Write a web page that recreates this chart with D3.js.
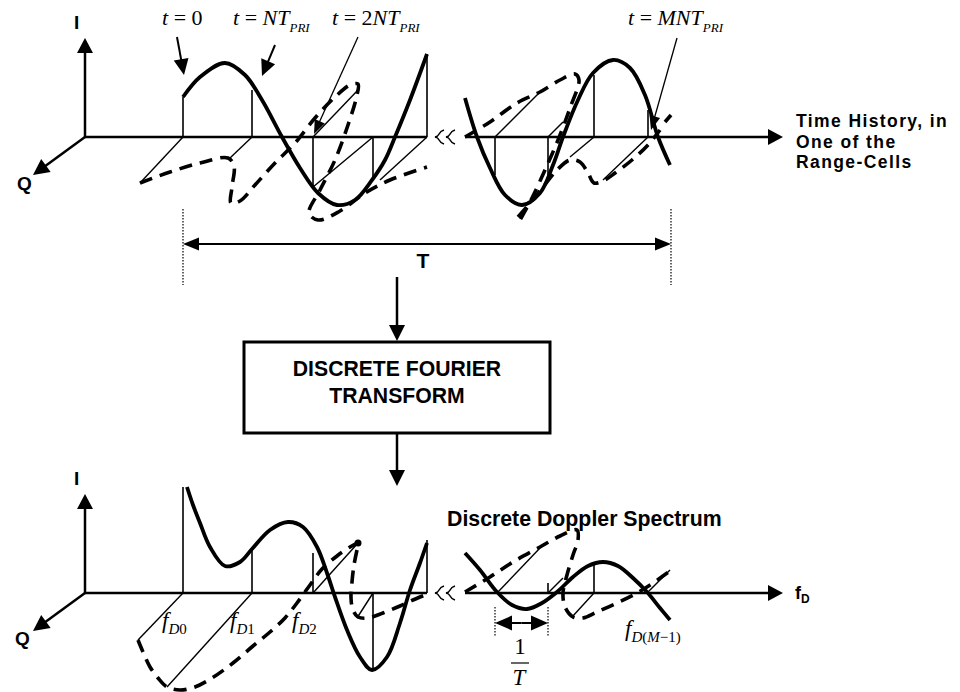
<!DOCTYPE html>
<html><head><meta charset="utf-8">
<script src="https://cdn.jsdelivr.net/npm/d3@7"></script>
<style>html,body{margin:0;padding:0;background:#fff}</style>
</head><body><svg id="c" width="960" height="692"></svg>
<script>
// ---------------- DATA (u = position along time/frequency axis, v = I amplitude / projected Q) -------------
// Upper panel: time history in one range cell
const topSolidA = [[98,40],[115,60],[140,74],[160,62],[177,37],[197,0],[215,-31],[233,-56],[252,-68],[270,-63],[287,-43],[300,-23],[310,0],[325,37],[342,83]];
const topSolidB = [[380,39],[392,0],[405,-31],[420,-58],[437,-68],[455,-56],[468,-28],[478,0],[493,37],[508,64],[528,77],[545,69],[560,42],[573,0],[585,-28]];
const topDashA = [[55,-46],[85,-35],[115,-26],[143,-21],[149,-29],[147,-50],[146,-66],[155,-64],[170,-48],[190,-26],[210,-6],[230,19],[250,40],[265,52],[273,53],[272,42],[263,12],[250,-23],[235,-53],[224,-76],[233,-83],[255,-74],[280,-56],[305,-43],[342,-30]];
const topDashB = [[380,0],[405,15],[432,34],[455,45],[475,57],[490,63],[494,57],[485,29],[473,-3],[460,-33],[447,-61],[435,-83]];
const topDashC = [[433,-80],[445,-66],[458,-50],[472,-33],[485,-23],[495,-25],[503,-36],[509,-46],[518,-44],[530,-36],[547,-23],[563,-8],[575,7]];
const topDashDot = [[580,15],[586,22]];
const topStems = [[98,40],[167,47],[228,-50],[288,-40],[342,83],[410,-38],[463,-38],[509,62],[563,27]];
const topQ = [[98,55,-46],[167,145,-21],[228,273,47],[288,228,-50],[342,295,-43],[410,455,45],[463,478,15],[509,485,-20],[563,518,-43]];
const topTimeSpan = [98,586];          // extent of T
const topLabels = [
  {u:77,  parts:[["t","i"],[" = 0","n"]], sub:null},
  {u:148, parts:[["t","i"],[" = ","n"],["NT","i"]], sub:"PRI"},
  {u:247, parts:[["t","i"],[" = 2","n"],["NT","i"]], sub:"PRI"},
  {u:543, parts:[["t","i"],[" = ","n"],["MNT","i"]], sub:"PRI"}
];
const topPointers = [ // [fromU, fromV, tipU, tipV, heavy]
  [92,100,99,62,1],[190,92,177,61,1],[273,100,229,3,0],[592,99,566,7,0]
];
const axisTitleLines = ["Time History, in","One of the","Range-Cells"];
// Lower panel: discrete Doppler spectrum
const botSolidA = [[102,106],[108,88],[115,70],[125,46],[140,27],[155,31],[167,44],[185,63],[203,71],[218,66],[232,46],[242,20],[250,-4],[262,-37],[275,-64],[287,-77],[302,-64],[315,-30],[325,3],[335,30],[342,50]];
const botSolidB = [[380,40],[395,23],[412,1],[427,-12],[442,-16],[457,-10],[472,1],[488,16],[503,27],[518,31],[533,27],[548,15],[562,1],[575,-15],[585,-27]];
const botDashA = [[53,-47],[58,-59],[65,-74],[73,-85],[82,-94],[95,-97],[110,-94],[127,-85],[148,-70],[168,-53],[185,-39],[200,-25],[212,-10],[225,8],[237,24],[252,37],[265,46],[273,50]];
const botDashB = [[272,43],[269,28],[267,11],[266,-5],[268,-17],[273,-24],[283,-25],[298,-20],[315,-13],[328,-7],[340,-2]];
const botDashC = [[380,1],[405,16],[428,31],[455,46],[475,57],[492,63],[493,53],[488,38],[482,18],[478,0],[480,-14],[488,-24],[498,-25],[512,-19],[532,-10],[552,0],[568,10],[585,22]];
const botStems = [[98,106],[167,45],[228,40],[288,-77],[342,53],[463,10],[509,31]];
const botQ = [[98,53,-47],[167,82,-94],[228,273,50],[288,272,-25],[412,455,45],[463,478,15],[509,487,-24],[562,585,23]];
const botDot = [273,50];
const binSpan = [410,463];             // 1/T spacing
const freqLabels = [
  {u:77,  sub:[["D","i"],["0","n"]]},
  {u:145, sub:[["D","i"],["1","n"]]},
  {u:207, sub:[["D","i"],["2","n"]]},
  {u:540, sub:[["D","i"],["(","n"],["M","i"],["\u22121)","n"]]}
];

// ---------------- SCALES ----------------
const X = d3.scaleLinear().domain([0,700]).range([85,785]);
const Yt = d3.scaleLinear().domain([-150,150]).range([287,-13]);
const Yb = d3.scaleLinear().domain([-150,150]).range([743,443]);

const svg = d3.select("#c");
svg.append("rect").attr("width",960).attr("height",692).attr("fill","#fff");
const SANS = "'Liberation Sans', Arial, Helvetica, sans-serif";
const SERIF = "'Liberation Serif', 'Times New Roman', serif";

function head(g, tip, from, len, hw){
  const dx=tip[0]-from[0], dy=tip[1]-from[1], L=Math.hypot(dx,dy), ux=dx/L, uy=dy/L;
  const bx=tip[0]-ux*len, by=tip[1]-uy*len;
  g.append("path").attr("d",`M${tip[0]},${tip[1]}L${bx-uy*hw},${by+ux*hw}L${bx+uy*hw},${by-ux*hw}Z`).attr("fill","#000");
  return [tip[0]-ux*(len-2), tip[1]-uy*(len-2)];
}
function arrow(g, from, tip, w, len, hw){
  const b = head(g, tip, from, len, hw);
  g.append("line").attr("x1",from[0]).attr("y1",from[1]).attr("x2",b[0]).attr("y2",b[1]).attr("stroke","#000").attr("stroke-width",w);
}
function squiggle(g, x, y){
  g.append("path").attr("d",`M${x+9},${y-7} C${x+2},${y-5} ${x+6},${y-1} ${x},${y} C${x+6},${y+1} ${x+2},${y+5} ${x+9},${y+7}`)
   .attr("fill","none").attr("stroke","#000").attr("stroke-width",1.5);
}

function panel(Y, d){
  const g = svg.append("g");
  const ln = d3.line().x(p=>X(p[0])).y(p=>Y(p[1])).curve(d3.curveCatmullRom.alpha(0.5));
  // axes
  arrow(g,[X(0),Y(0)],[X(0),Y(99)],2.5,15,8);
  arrow(g,[X(0),Y(0)],[X(-52),Y(-38)],2.5,16,8);
  g.append("line").attr("x1",X(0)).attr("y1",Y(0)).attr("x2",X(342)).attr("y2",Y(0)).attr("stroke","#000").attr("stroke-width",2.5);
  arrow(g,[X(380),Y(0)],[X(698),Y(0)],2.5,15,8);
  squiggle(g, X(350), Y(0)); squiggle(g, X(361), Y(0));
  // stems
  d.stems.forEach(s=>g.append("line").attr("x1",X(s[0])).attr("y1",Y(0)).attr("x2",X(s[0])).attr("y2",Y(s[1])).attr("stroke","#000").attr("stroke-width",1.6));
  // Q projections
  d.q.forEach(s=>g.append("line").attr("x1",X(s[0])).attr("y1",Y(0)).attr("x2",X(s[1])).attr("y2",Y(s[2])).attr("stroke","#000").attr("stroke-width",1.4));
  // dashed Q curves
  d.dash.forEach(c=>g.append("path").attr("d",ln(c)).attr("fill","none").attr("stroke","#000").attr("stroke-width",3.6).attr("stroke-dasharray","13,8").attr("stroke-linecap","butt"));
  // solid I curves
  d.solid.forEach(c=>g.append("path").attr("d",ln(c)).attr("fill","none").attr("stroke","#000").attr("stroke-width",3.8).attr("stroke-linecap","butt"));
  return g;
}

const gt = panel(Yt,{stems:topStems,q:topQ,dash:[topDashA,topDashB,topDashC,topDashDot],solid:[topSolidA,topSolidB]});
const gb = panel(Yb,{stems:botStems,q:botQ,dash:[botDashA,botDashB,botDashC],solid:[botSolidA,botSolidB]});
gb.append("circle").attr("cx",X(botDot[0])).attr("cy",Yb(botDot[1])).attr("r",3.5).attr("fill","#000");

// axis labels
function bold(txt,x,y,size,anchor){
  return svg.append("text").attr("x",x).attr("y",y).attr("font-family",SANS).attr("font-weight","bold")
    .attr("font-size",size).attr("text-anchor",anchor||"start").text(txt);
}
bold("I",74,29,19); bold("Q",17,190,19);
bold("I",74,485,19); bold("Q",15,645,19);
axisTitleLines.forEach((t,i)=>bold(t,796,127+i*20.7,17.5).attr("letter-spacing",1.4));
const fd = svg.append("text").attr("x",795).attr("y",599).attr("font-family",SANS).attr("font-weight","bold").attr("font-size",18);
fd.append("tspan").text("f"); fd.append("tspan").attr("dy",4).attr("font-size",12).text("D");
bold("Discrete Doppler Spectrum",447,526,21.3);

// time labels with pointers
topLabels.forEach(l=>{
  const t = svg.append("text").attr("x",X(l.u)).attr("y",25).attr("font-family",SERIF).attr("font-size",22);
  l.parts.forEach(p=>t.append("tspan").attr("font-style",p[1]==="i"?"italic":"normal").text(p[0]));
  if(l.sub) t.append("tspan").attr("dy",7).attr("font-size",13).attr("font-style","italic").text(l.sub);
});
topPointers.forEach(p=>arrow(gt,[X(p[0]),Yt(p[1])],[X(p[2]),Yt(p[3])],p[4]?2:1.3,p[4]?16:14,p[4]?7.5:5.5));

// T dimension
topTimeSpan.forEach(u=>gt.append("line").attr("x1",X(u)).attr("x2",X(u)).attr("y1",Yt(-72)).attr("y2",Yt(-148))
  .attr("stroke","#000").attr("stroke-width",1.2).attr("stroke-dasharray","1.5,1.5"));
const tm = (X(topTimeSpan[0])+X(topTimeSpan[1]))/2;
arrow(gt,[tm,Yt(-107)],[X(topTimeSpan[0]),Yt(-107)],2,16,6.5);
arrow(gt,[tm,Yt(-107)],[X(topTimeSpan[1]),Yt(-107)],2,16,6.5);
bold("T",423,268,21,"middle");

// DFT box and flow arrows
arrow(svg,[397,277],[397,341],2.5,16,8);
svg.append("rect").attr("x",244).attr("y",342).attr("width",306).attr("height",91).attr("fill","none").attr("stroke","#000").attr("stroke-width",3);
bold("DISCRETE FOURIER",397,376,21.2,"middle");
bold("TRANSFORM",397,403,21.2,"middle");
arrow(svg,[397,433],[397,486],2.5,16,8);

// frequency labels
freqLabels.forEach(l=>{
  const t = svg.append("text").attr("x",X(l.u)).attr("y",l.u>500?636:628).attr("font-family",SERIF).attr("font-size",23);
  t.append("tspan").attr("font-style","italic").text("f");
  l.sub.forEach((p,i)=>{ const ts=t.append("tspan").attr("font-size",15).attr("font-style",p[1]==="i"?"italic":"normal").text(p[0]); if(i===0) ts.attr("dy",6); });
});

// 1/T spacing marker
binSpan.forEach(u=>gb.append("line").attr("x1",X(u)).attr("x2",X(u)).attr("y1",Yb(-14)).attr("y2",Yb(-44))
  .attr("stroke","#000").attr("stroke-width",1.2).attr("stroke-dasharray","1.5,1.5"));
const bm = (X(binSpan[0])+X(binSpan[1]))/2;
arrow(gb,[bm,Yb(-30)],[X(binSpan[0]),Yb(-30)],2,17,7.5);
arrow(gb,[bm,Yb(-30)],[X(binSpan[1]),Yb(-30)],2,17,7.5);
svg.append("text").attr("x",520).attr("y",654).attr("font-family",SERIF).attr("font-size",23).attr("text-anchor","middle").text("1");
svg.append("line").attr("x1",511).attr("x2",529).attr("y1",663).attr("y2",663).attr("stroke","#000").attr("stroke-width",1.2);
svg.append("text").attr("x",519).attr("y",685).attr("font-family",SERIF).attr("font-size",23).attr("font-style","italic").attr("text-anchor","middle").text("T");
</script></body></html>
